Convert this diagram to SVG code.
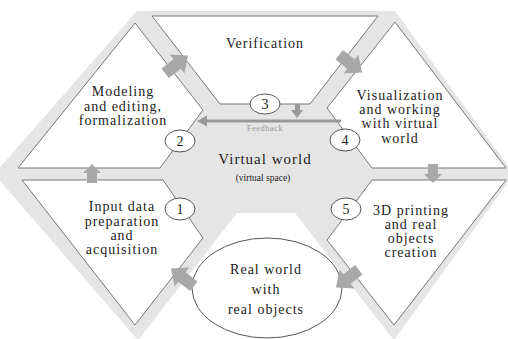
<svg xmlns="http://www.w3.org/2000/svg" width="508" height="339" viewBox="0 0 508 339">
<style>
.bg{fill:#e5e5e5}
.tri{fill:#fff;stroke:#777;stroke-width:1}
.lbl{font-family:"Liberation Serif",serif;font-size:14px;fill:#222;text-anchor:middle;letter-spacing:1px}
.num{font-family:"Liberation Serif",serif;font-size:14px;fill:#222;text-anchor:middle}
.circ{fill:#fff;stroke:#555;stroke-width:1}
.arr{fill:#a8a8a8}
</style>
<defs>
<path id="big" d="M-15,-6 L0,-6 L0,-12 L14,0 L0,12 L0,6 L-15,6 Z"/>
<path id="small" d="M-10,-5 L0,-5 L0,-9 L9,0 L0,9 L0,5 L-10,5 Z"/>
</defs>
<rect width="508" height="339" fill="#fff"/>
<polygon class="bg" points="137,11 395,11 514,174 395,339 137,339 -6,174"/>

<g id="virtual-world">
<text class="lbl" x="265" y="164" style="font-size:15px">Virtual world</text>
<text class="num" x="263" y="181" style="font-size:9.5px">(virtual space)</text>
</g>

<g id="verification">
<polygon class="tri" points="152,16 378,16 310,104 220,104"/>
<text class="lbl" x="265" y="48">Verification</text>
</g>

<g id="modeling">
<polygon class="tri" points="135,23 203,110 160,168 18,168"/>
<text class="lbl" x="123" y="96">Modeling</text>
<text class="lbl" x="123" y="111">and editing,</text>
<text class="lbl" x="123" y="125">formalization</text>
</g>

<g id="visualization">
<polygon class="tri" points="395,22 506,168 372,168 327,108"/>
<text class="lbl" x="400" y="100">Visualization</text>
<text class="lbl" x="400" y="114">and working</text>
<text class="lbl" x="400" y="128">with virtual</text>
<text class="lbl" x="400" y="143">world</text>
</g>

<g id="input">
<polygon class="tri" points="22,180 163,180 203,238 135,325"/>
<text class="lbl" x="122" y="211">Input data</text>
<text class="lbl" x="122" y="225.5">preparation</text>
<text class="lbl" x="122" y="240">and</text>
<text class="lbl" x="122" y="254">acquisition</text>
</g>

<g id="printing">
<polygon class="tri" points="372,180 506,180 394,325 327,240"/>
<text class="lbl" x="411" y="215">3D printing</text>
<text class="lbl" x="411" y="229">and real</text>
<text class="lbl" x="411" y="243">objects</text>
<text class="lbl" x="411" y="257">creation</text>
</g>

<g id="real-world">
<polygon fill="#fff" points="237,213 295,213 393,339 139,339"/>
<ellipse class="circ" cx="267" cy="288" rx="75" ry="50" stroke="#777"/>
<text class="lbl" x="266" y="274">Real world</text>
<text class="lbl" x="266" y="294">with</text>
<text class="lbl" x="266" y="314">real objects</text>
</g>

<g id="connectors">
<use href="#small" class="arr" transform="translate(92,173) rotate(-90)"/>
<use href="#big" class="arr" transform="translate(177,64) rotate(-38)"/>
<use href="#big" class="arr" transform="translate(351,64) rotate(38)"/>
<use href="#small" class="arr" transform="translate(433,174) rotate(90)"/>
<use href="#big" class="arr" transform="translate(347,279) rotate(142)"/>
<use href="#big" class="arr" transform="translate(182,277) rotate(218)"/>
<line x1="341" y1="121" x2="205" y2="121" stroke="#999" stroke-width="3"/>
<polygon points="197,121 207,115.5 207,126.5" fill="#999"/>
<rect x="295" y="104" width="5" height="7" fill="#999"/>
<polygon points="291,110 303,110 297,118" fill="#999"/>
<text x="265" y="131" style="font-family:'Liberation Serif',serif;font-size:8.5px;fill:#999;text-anchor:middle;letter-spacing:0.5px">Feedback</text>
</g>

<g id="step1"><ellipse class="circ" cx="180" cy="209" rx="15" ry="11"/><text class="num" x="180" y="214">1</text></g>
<g id="step2"><ellipse class="circ" cx="180" cy="141" rx="15" ry="11"/><text class="num" x="180" y="146">2</text></g>
<g id="step3"><ellipse class="circ" cx="265" cy="104" rx="15" ry="10"/><text class="num" x="265" y="109">3</text></g>
<g id="step4"><ellipse class="circ" cx="345" cy="140" rx="15" ry="11"/><text class="num" x="345" y="145">4</text></g>
<g id="step5"><ellipse class="circ" cx="346" cy="209" rx="15" ry="11"/><text class="num" x="346" y="214">5</text></g>
</svg>
